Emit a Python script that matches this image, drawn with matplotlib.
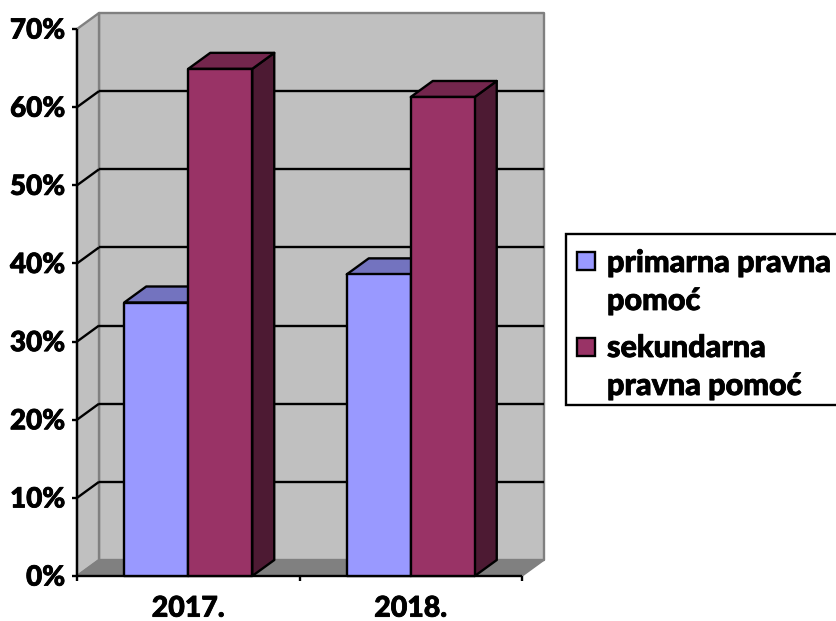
import numpy as np
import matplotlib
matplotlib.use("Agg")
import matplotlib.pyplot as plt
import matplotlib.patheffects as pe
from matplotlib.patches import Polygon, Rectangle

plt.rcParams['font.family'] = ['Lato', 'DejaVu Sans']
plt.rcParams['font.weight'] = 'black'

years = ['2017.', '2018.']
primarna = [35, 38.6]
sekundarna = [64.9, 61.3]
y_ticks = [0, 10, 20, 30, 40, 50, 60, 70]
legend_labels = [['primarna pravna', 'pomoć'], ['sekundarna', 'pravna pomoć']]

W, H = 836, 621
fig = plt.figure(figsize=(W / 100, H / 100), dpi=100, facecolor='white')

# front plane of the 3d box, in pixels
left, right, top, bottom = 77, 522, 29, 576
ax = fig.add_axes([left / W, 1 - bottom / H, (right - left) / W, (bottom - top) / H])
ax.set_xlim(0, len(years))
ax.set_ylim(0, 70)
ax.axis('off')

# depth of the box in data units
n = len(years)
unit_x = (right - left) / n
unit_y = (bottom - top) / 70
dx = 22 / unit_x
dy = 16 / unit_y
bar_w = 64 / unit_x

WALL = '#c0c0c0'
FLOOR = '#808080'
EDGE = '#808080'
LW = 1.7
# the reference text is a little heavier than Lato's heaviest installed cut
thick = [pe.withStroke(linewidth=0.6, foreground='black')]


def poly(pts, color, edge='black', lw=LW, z=2):
    ax.add_patch(Polygon(pts, closed=True, facecolor=color, edgecolor=edge,
                         linewidth=lw, zorder=z, clip_on=False, joinstyle='round'))


def line(xs, ys, color='black', lw=LW, z=1.5):
    ax.plot(xs, ys, color=color, lw=lw, zorder=z, clip_on=False, solid_capstyle='butt')


# walls and floor
poly([(dx, dy), (n + dx, dy), (n + dx, 70 + dy), (dx, 70 + dy)], WALL, EDGE, 1.7, 1)
poly([(0, 0), (dx, dy), (dx, 70 + dy), (0, 70)], WALL, EDGE, 1.7, 1)
poly([(0, 0), (n, 0), (n + dx, dy), (dx, dy)], FLOOR, EDGE, 1.2, 1.2)

# gridlines along back wall and side wall
for t in y_ticks[1:-1]:
    line([dx, n + dx], [t + dy, t + dy])
    line([0, dx], [t, t + dy])

# axes and ticks
tick_x = 5 / unit_x
tick_y = 5 / unit_y
line([0, 0], [0, 70], z=1.6)
line([0, n], [0, 0], z=1.6)
for t in y_ticks:
    line([-tick_x, 0], [t, t], z=1.6)
    ax.text(-0.053, t - 0.2, f'{t}%', ha='right', va='center', fontsize=20, color='black',
            clip_on=False, path_effects=thick)
for i in range(n + 1):
    line([i, i], [0, -tick_y], z=1.6)


def bar3d(x0, val, front, side, topc, z):
    x1 = x0 + bar_w
    poly([(x1, 0), (x1 + dx, dy), (x1 + dx, val + dy), (x1, val)], side, z=z)
    poly([(x0, val), (x1, val), (x1 + dx, val + dy), (x0 + dx, val + dy)], topc, z=z)
    poly([(x0, 0), (x1, 0), (x1, val), (x0, val)], front, z=z)


for i in range(n):
    c = i + 0.5
    bar3d(c - bar_w, primarna[i], '#9999ff', '#5c5c99', '#7373bf', 3)
    bar3d(c, sekundarna[i], '#993366', '#4d1a33', '#73264d', 4)
    ax.text(c, -5.2, years[i], ha='center', va='baseline', fontsize=20.5, color='black',
            clip_on=False, path_effects=thick)

# legend, placed by hand in figure pixels
fig.add_artist(Rectangle((566 / W, 1 - 405 / H), 300 / W, 171 / H, transform=fig.transFigure,
                         facecolor='white', edgecolor='black', linewidth=1.7))
for colr, sy in zip(['#9999ff', '#993366'], [270, 356]):
    fig.add_artist(Rectangle((577 / W, 1 - sy / H), 18 / W, 18 / H, transform=fig.transFigure,
                             facecolor=colr, edgecolor='black', linewidth=1.7))
baselines = [[272, 310], [357, 395]]
for lines, ys in zip(legend_labels, baselines):
    for s, by in zip(lines, ys):
        fig.text(607 / W, 1 - by / H, s, ha='left', va='baseline', fontsize=22, color='black',
                 path_effects=thick)

fig.savefig('out.png', dpi=100)
